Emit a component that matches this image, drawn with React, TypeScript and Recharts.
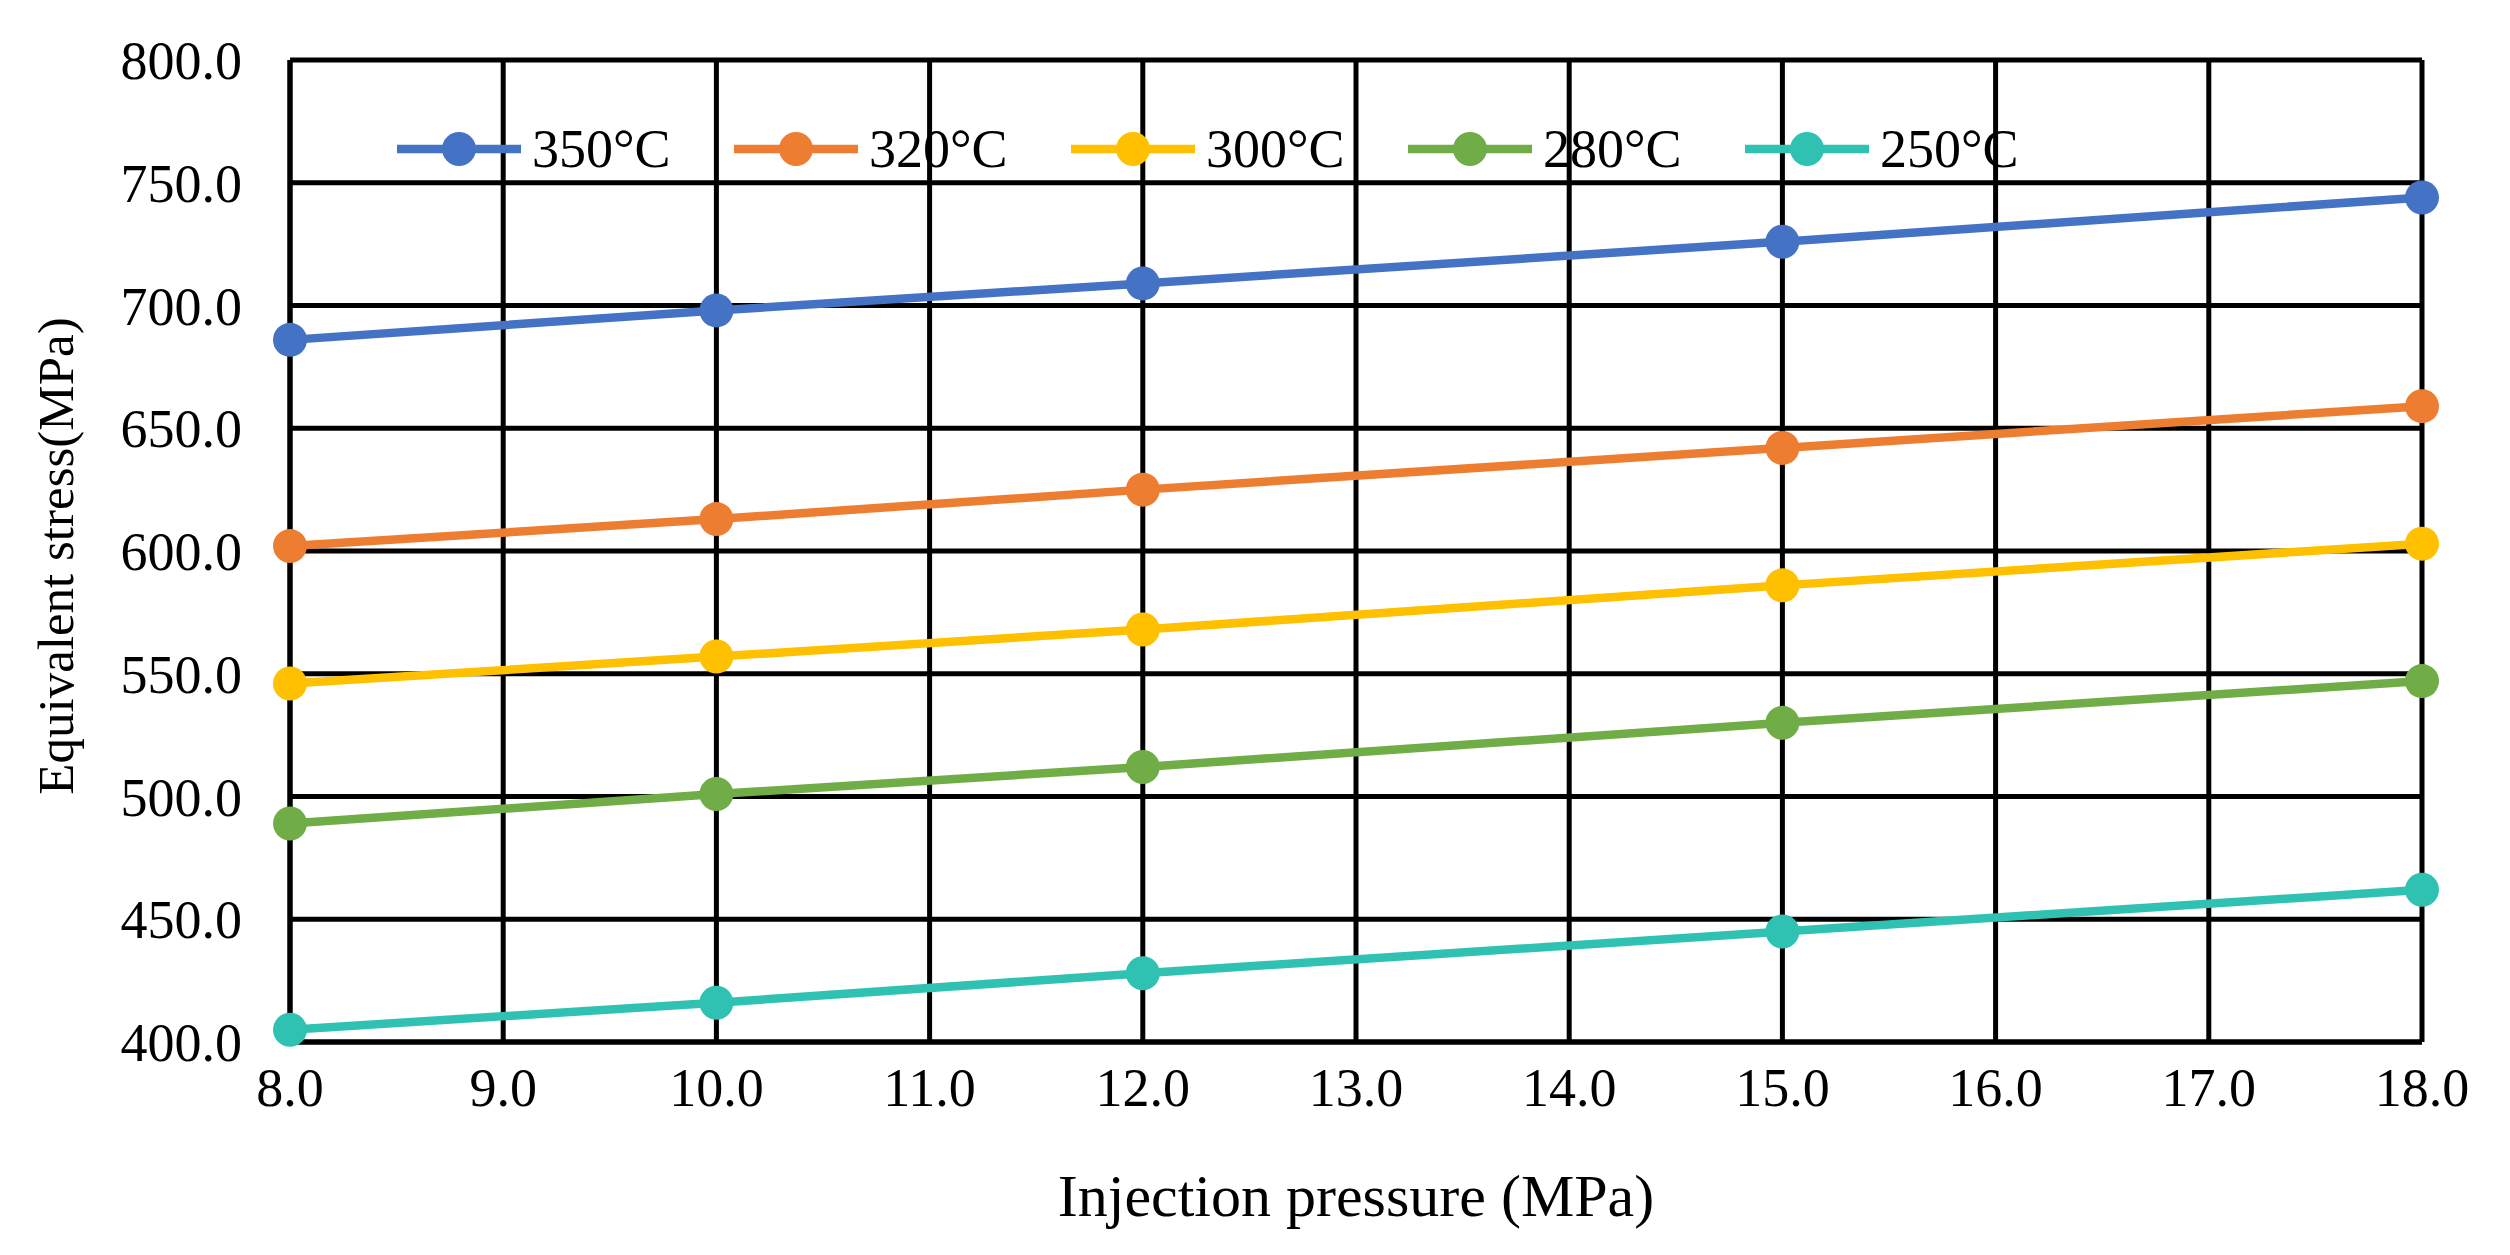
import React from 'react';
import { LineChart, Line, XAxis, YAxis, CartesianGrid } from 'recharts';

const pressures = [8, 10, 12, 15, 18];
const s350 = [686, 698, 709, 726, 744];
const s320 = [602, 613, 625, 642, 659];
const s300 = [546, 557, 568, 586, 603];
const s280 = [489, 501, 512, 530, 547];
const s250 = [405, 416, 428, 445, 462];

const xTicks = [8, 9, 10, 11, 12, 13, 14, 15, 16, 17, 18];
const yTicks = [400, 450, 500, 550, 600, 650, 700, 750, 800];

const series = [
  { key: 't350', name: '350°C', values: s350, color: '#4472C4' },
  { key: 't320', name: '320°C', values: s320, color: '#ED7D31' },
  { key: 't300', name: '300°C', values: s300, color: '#FFC000' },
  { key: 't280', name: '280°C', values: s280, color: '#70AD47' },
  { key: 't250', name: '250°C', values: s250, color: '#2FC2B2' },
];

const data = pressures.map((p, i) => {
  const row: Record<string, number> = { p };
  series.forEach((s) => (row[s.key] = s.values[i]));
  return row;
});

const font = '"Liberation Serif", "Times New Roman", serif';

// legend drawn over the plot, in series order
function LegendBox() {
  return (
    <div
      style={{
        position: 'absolute',
        top: 122,
        left: 397,
        display: 'flex',
        fontFamily: font,
        fontSize: 54,
        lineHeight: '54px',
        color: '#000',
      }}
    >
      {series.map((s) => (
        <div key={s.key} style={{ display: 'flex', alignItems: 'center', width: 337 }}>
          <svg width={124} height={40}>
            <line x1={0} y1={20} x2={124} y2={20} stroke={s.color} strokeWidth={8.5} />
            <circle cx={62} cy={20} r={17} fill={s.color} />
          </svg>
          <span style={{ marginLeft: 11 }}>{s.name}</span>
        </div>
      ))}
    </div>
  );
}

function YTitle(props: any) {
  const vb = props.viewBox;
  const cy = vb.y + vb.height / 2 + 5;
  return (
    <text
      x={56}
      y={cy}
      transform={`rotate(-90, 56, ${cy})`}
      textAnchor="middle"
      dominantBaseline="central"
      fontFamily={font}
      fontSize={51}
      fill="#000"
    >
      Equivalent stress(MPa)
    </text>
  );
}

export default function App() {
  return (
    <div style={{ position: 'absolute', left: 0, top: 0, width: 2510, height: 1255, background: '#fff' }}>
      <LineChart
        width={2510}
        height={1255}
        data={data}
        margin={{ top: 60, right: 88, left: 0, bottom: 0 }}
      >
        <CartesianGrid stroke="#000" strokeWidth={5} />
        <XAxis
          dataKey="p"
          type="number"
          domain={[8, 18]}
          ticks={xTicks}
          tickFormatter={(v: number) => v.toFixed(1)}
          height={213}
          tickSize={0}
          tickMargin={26}
          axisLine={{ stroke: '#000', strokeWidth: 5 }}
          tick={{ fill: '#000', fontFamily: font, fontSize: 54 }}
          label={{
            value: 'Injection pressure (MPa)',
            position: 'insideBottom',
            offset: 39,
            fill: '#000',
            fontFamily: font,
            fontSize: 60,
          }}
        />
        <YAxis
          type="number"
          domain={[400, 800]}
          ticks={yTicks}
          tickFormatter={(v: number) => v.toFixed(1)}
          width={290}
          tickSize={0}
          tickMargin={48}
          axisLine={{ stroke: '#000', strokeWidth: 5 }}
          tick={{ fill: '#000', fontFamily: font, fontSize: 54 }}
          label={<YTitle />}
        />
        {series.map((s) => (
          <Line
            key={s.key}
            dataKey={s.key}
            name={s.name}
            stroke={s.color}
            strokeWidth={8.5}
            dot={{ r: 17, fill: s.color, stroke: s.color, strokeWidth: 0 }}
            activeDot={false}
            isAnimationActive={false}
          />
        ))}
      </LineChart>
      <LegendBox />
    </div>
  );
}
